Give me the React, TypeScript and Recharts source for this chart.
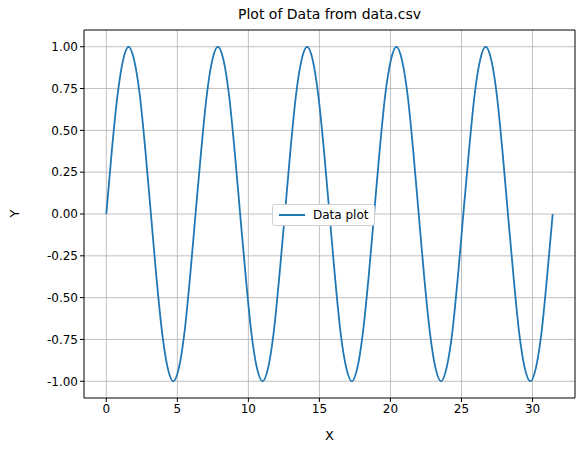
import { LineChart, Line, XAxis, YAxis, CartesianGrid, ReferenceLine } from "recharts";

const xs = [0,0.39,0.79,1.18,1.57,1.96,2.36,2.75,3.14,3.53,3.93,4.32,4.71,5.11,5.5,5.89,6.28,6.68,7.07,7.46,7.85,8.25,8.64,9.03,9.42,9.82,10.21,10.6,11,11.39,11.78,12.17,12.57,12.96,13.35,13.74,14.14,14.53,14.92,15.32,15.71,16.1,16.49,16.89,17.28,17.67,18.06,18.46,18.85,19.24,19.63,20.03,20.42,20.81,21.21,21.6,21.99,22.38,22.78,23.17,23.56,23.95,24.35,24.74,25.13,25.53,25.92,26.31,26.7,27.1,27.49,27.88,28.27,28.67,29.06,29.45,29.85,30.24,30.63,31.02,31.42];
const ys = [
  0,0.38,0.71,0.92,1,0.92,0.71,0.38,0,-0.38,-0.71,-0.92,-1,-0.92,-0.71,-0.38,
  0,0.38,0.71,0.92,1,0.92,0.71,0.38,0,-0.38,-0.71,-0.92,-1,-0.92,-0.71,-0.38,
  0,0.38,0.71,0.92,1,0.92,0.71,0.38,0,-0.38,-0.71,-0.92,-1,-0.92,-0.71,-0.38,
  0,0.38,0.71,0.92,1,0.92,0.71,0.38,0,-0.38,-0.71,-0.92,-1,-0.92,-0.71,-0.38,
  0,0.38,0.71,0.92,1,0.92,0.71,0.38,0,-0.38,-0.71,-0.92,-1,-0.92,-0.71,-0.38,
  0,
];
const xTicks = [0, 5, 10, 15, 20, 25, 30];
const yTicks = [-1, -0.75, -0.5, -0.25, 0, 0.25, 0.5, 0.75, 1];

const data = xs.map((x, i) => ({ x, y: ys[i] }));
const FONT = "DejaVu Sans, sans-serif";
const XMIN = -1.57, XMAX = 32.99, YMIN = -1.1, YMAX = 1.1;

export default function App() {
  return (
    <div style={{ position: "absolute", left: 0, top: 0, width: 587, height: 455, background: "white" }}>
      <div style={{ position: "absolute", top: 6, left: 84, width: 491, textAlign: "center", fontFamily: FONT, fontSize: 14 }}>
        Plot of Data from data.csv
      </div>
      <div style={{ position: "absolute", top: 428, left: 84, width: 491, textAlign: "center", fontFamily: FONT, fontSize: 13 }}>X</div>
      <div style={{ position: "absolute", top: 206, left: 11, transform: "rotate(-90deg)", fontFamily: FONT, fontSize: 13 }}>Y</div>
      <LineChart width={587} height={455} data={data} margin={{ top: 30, right: 12, left: 0, bottom: 0 }}>
        <CartesianGrid stroke="#b0b0b0" strokeWidth={0.8} horizontalValues={yTicks} verticalValues={xTicks} />
        <XAxis dataKey="x" type="number" domain={[XMIN, XMAX]} ticks={xTicks} allowDataOverflow height={57}
          stroke="#000" tickSize={4} tick={{ fontFamily: FONT, fontSize: 12, fill: "#000" }} />
        <YAxis type="number" domain={[YMIN, YMAX]} ticks={yTicks} allowDataOverflow width={84}
          stroke="#000" tickSize={4} tickFormatter={(v: number) => v.toFixed(2)}
          tick={{ fontFamily: FONT, fontSize: 12, fill: "#000" }} />
        <ReferenceLine y={YMAX} stroke="#000" />
        <ReferenceLine x={XMAX} stroke="#000" />
        <Line dataKey="y" name="Data plot" type="monotone" stroke="#1f77b4" strokeWidth={1.8} dot={false} isAnimationActive={false} />
      </LineChart>
      <div style={{ position: "absolute", left: 272, top: 204, background: "white", border: "1px solid #d0d0d0", borderRadius: 3, padding: "3px 6px", display: "flex", alignItems: "center", gap: 8, fontFamily: FONT, fontSize: 12, color: "#000" }}>
        <span style={{ display: "inline-block", width: 26, height: 2, background: "#1f77b4" }} />
        <span>Data plot</span>
      </div>
    </div>
  );
}
